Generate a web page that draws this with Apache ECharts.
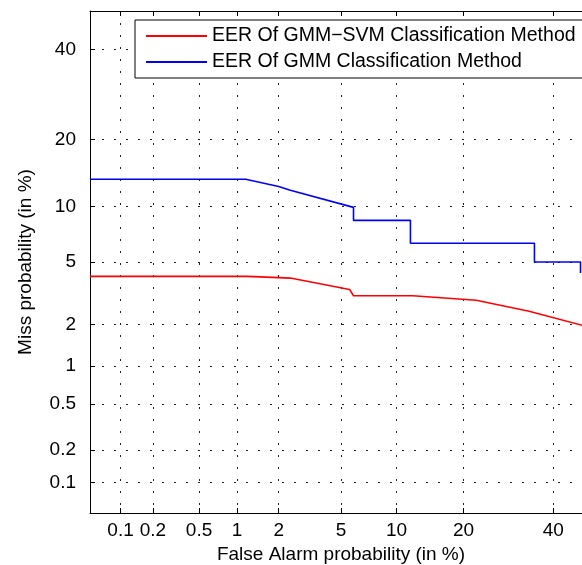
<!DOCTYPE html>
<html>
<head>
<meta charset="utf-8">
<script src="https://cdn.jsdelivr.net/npm/echarts@6/dist/echarts.min.js"></script>
<style>
  html, body { margin: 0; padding: 0; background: #fff; }
  #chart { width: 582px; height: 565px; }
</style>
</head>
<body>
<div id="chart"></div>
<script>
// tick labels (percent), same for both axes
const tickPercents = [0.1, 0.2, 0.5, 1, 2, 5, 10, 20, 40];
const axisMinPercent = 0.05;
const axisMaxPercent = 50;

// GMM-SVM curve: false alarm % / miss %
const svmFa   = [0.05, 1.2, 2.4, 5.6, 5.9, 12, 22.4, 34, 48];
const svmMiss = [4.1, 4.1, 4.0, 3.4, 3.1, 3.1, 2.9, 2.45, 1.95];

// GMM curve: false alarm % / miss %
const gmmFa   = [0.05, 1.16, 2.0, 2.4, 5.9, 5.9, 11.7, 11.7, 35.3, 35.3, 47, 47];
const gmmMiss = [13.5, 13.5, 12.5, 12.0, 9.9, 8.5, 8.5, 6.4, 6.4, 5.0, 5.0, 4.3];

// inverse normal CDF (Acklam)
function probit(p) {
    const a = [-39.6968302866538, 220.946098424521, -275.928510446969, 138.357751867269, -30.6647980661472, 2.50662827745924];
    const b = [-54.4760987982241, 161.585836858041, -155.698979859887, 66.8013118877197, -13.2806815528857];
    const c = [-0.00778489400243029, -0.322396458041136, -2.40075827716184, -2.54973253934373, 4.37466414146497, 2.93816398269878];
    const d = [0.00778469570904146, 0.32246712907004, 2.445134137143, 3.75440866190742];
    const pl = 0.02425;
    let q, r;
    if (p < pl) {
        q = Math.sqrt(-2 * Math.log(p));
        return (((((c[0]*q+c[1])*q+c[2])*q+c[3])*q+c[4])*q+c[5]) / ((((d[0]*q+d[1])*q+d[2])*q+d[3])*q+1);
    }
    if (p > 1 - pl) {
        q = Math.sqrt(-2 * Math.log(1 - p));
        return -(((((c[0]*q+c[1])*q+c[2])*q+c[3])*q+c[4])*q+c[5]) / ((((d[0]*q+d[1])*q+d[2])*q+d[3])*q+1);
    }
    q = p - 0.5;
    r = q * q;
    return (((((a[0]*r+a[1])*r+a[2])*r+a[3])*r+a[4])*r+a[5])*q / (((((b[0]*r+b[1])*r+b[2])*r+b[3])*r+b[4])*r+1);
}
const dev = pct => probit(pct / 100);

const tickDev = tickPercents.map(dev);
function tickLabel(v) {
    for (let i = 0; i < tickDev.length; i++) {
        if (Math.abs(tickDev[i] - v) < 1e-6) return String(tickPercents[i]);
    }
    return '';
}

const FONT = 'Liberation Sans, Arial, sans-serif';
const FS = 19;
const gridDots = { color: '#222', width: 1, type: [2, 10] };

function makeAxis(pos, isX, main) {
    return {
        type: 'value',
        position: pos,
        min: dev(axisMinPercent),
        max: dev(axisMaxPercent),
        axisLine: { show: true, onZero: false, lineStyle: { color: '#000', width: 1 } },
        axisTick: { show: true, inside: true, length: 5, customValues: tickDev, lineStyle: { color: '#000' } },
        axisLabel: main ? {
            show: true, customValues: tickDev, formatter: tickLabel,
            color: '#000', fontSize: FS, fontFamily: FONT, margin: isX ? 8 : 14
        } : { show: false },
        splitLine: { show: main, lineStyle: gridDots },
        name: main ? (isX ? 'False Alarm probability (in %)' : 'Miss probability (in %)') : '',
        nameLocation: 'middle',
        nameGap: isX ? 30 : 55,
        nameTextStyle: { color: '#000', fontSize: FS, fontFamily: FONT }
    };
}

const chart = echarts.init(document.getElementById('chart'));
chart.setOption({
    animation: false,
    backgroundColor: '#fff',
    grid: { left: 90, top: 11, width: 502, height: 502, outerBoundsMode: 'none', containLabel: false },
    xAxis: [makeAxis('bottom', true, true), makeAxis('top', true, false)],
    yAxis: [makeAxis('left', false, true), makeAxis('right', false, false)],
    legend: {
        orient: 'vertical',
        left: 135,
        top: 20,
        itemWidth: 61,
        itemHeight: 2,
        itemGap: 6,
        padding: [6, 12, 6, 11],
        borderColor: '#000',
        borderWidth: 1,
        backgroundColor: '#fff',
        textStyle: { color: '#000', fontSize: 19.5, fontFamily: FONT },
        icon: 'rect',
        data: ['EER Of GMM\u2212SVM Classification Method', 'EER Of GMM Classification Method']
    },
    series: [
        {
            name: 'EER Of GMM\u2212SVM Classification Method',
            type: 'line',
            showSymbol: false,
            symbol: 'none',
            data: svmFa.map((v, i) => [dev(v), dev(svmMiss[i])]),
            lineStyle: { color: '#ff0000', width: 1.6 },
            itemStyle: { color: '#ff0000' }
        },
        {
            name: 'EER Of GMM Classification Method',
            type: 'line',
            showSymbol: false,
            symbol: 'none',
            data: gmmFa.map((v, i) => [dev(v), dev(gmmMiss[i])]),
            lineStyle: { color: '#0000ff', width: 1.6 },
            itemStyle: { color: '#0000ff' }
        }
    ]
});
</script>
</body>
</html>
